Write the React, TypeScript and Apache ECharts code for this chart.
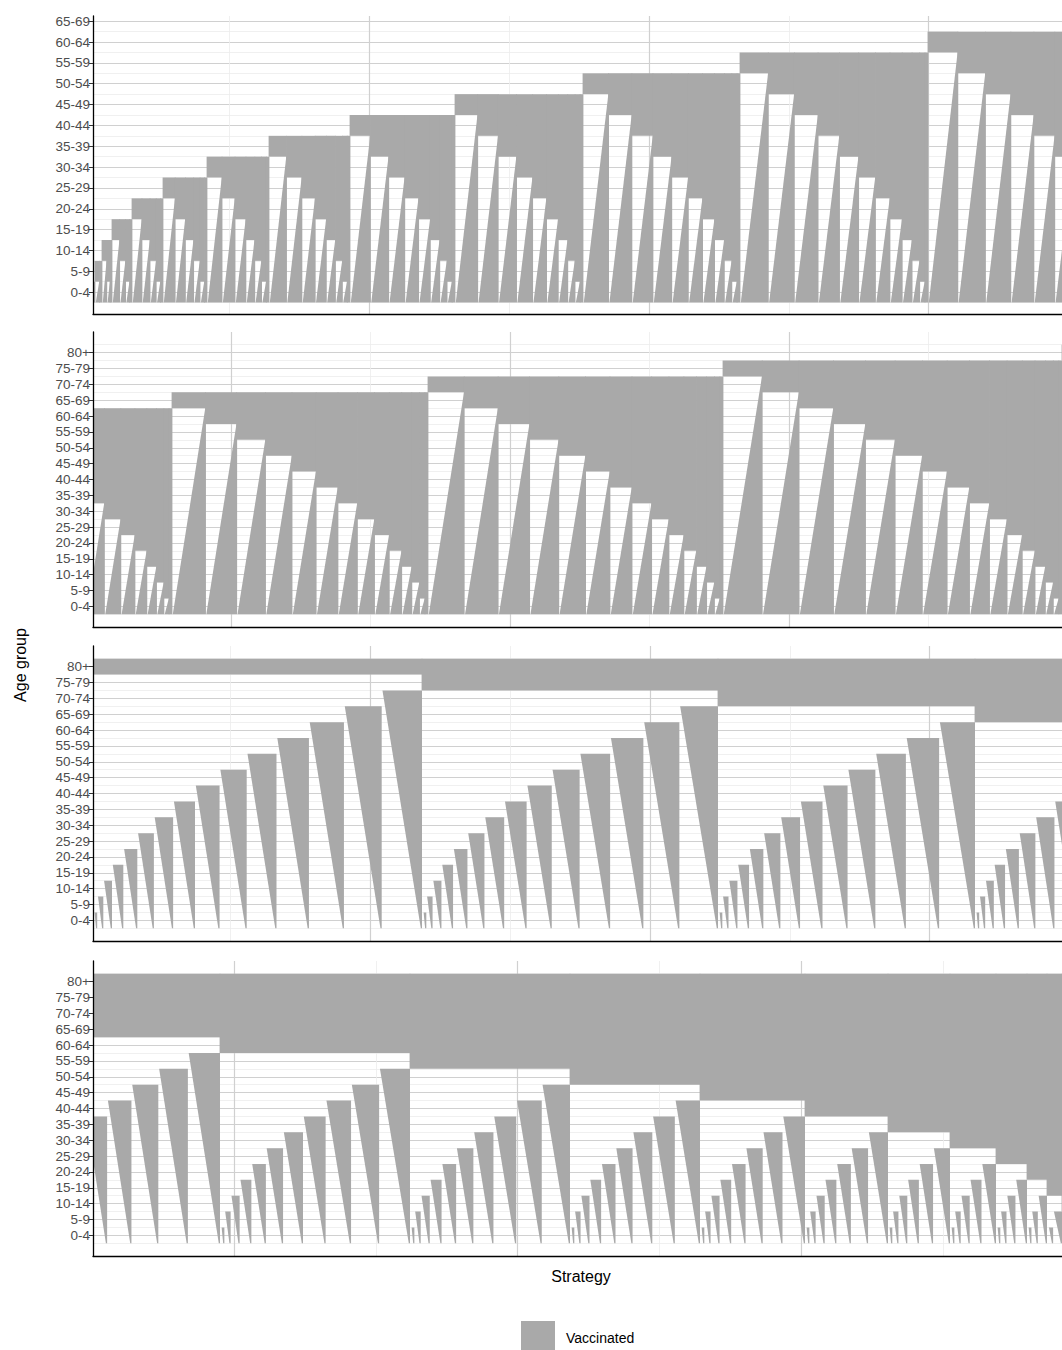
import { useEffect, useRef } from "react";
import * as echarts from "echarts";

// age groups, bottom to top
const ageGroups = ["0-4", "5-9", "10-14", "15-19", "20-24", "25-29", "30-34", "35-39", "40-44", "45-49", "50-54", "55-59", "60-64", "65-69", "70-74", "75-79", "80+"];
const panelTopIndex = [13, 16, 16, 16];
const panelYMin = [-1.05, -1.3, -1.3, -1.3];
const panelYMax = [13.25, 17.3, 17.3, 17.3];
const panelTop = [16, 332, 646, 961];
const panelHeight = [298, 295, 295, 295];

// strategies per panel (x units), panels continue one after another
const PANEL_W = 969;

// first family: [panel, start strategy, highest vaccinated group]
const familyA: [number, number, number][] = [
  [0, 0, 0], [0, 2, 1], [0, 9, 2], [0, 19, 3], [0, 39, 4], [0, 70, 5], [0, 114, 6],
  [0, 176, 7], [0, 257, 8], [0, 362, 9], [0, 490, 10], [0, 647, 11], [0, 835, 12],
  [1, 79, 13], [1, 335, 14], [1, 630, 15],
];
const familyAEnd: [number, number] = [1, 969];

// second family: [panel, start strategy, lowest group of the top band]
const familyB: [number, number, number][] = [
  [2, 0, 15.5], [2, 329, 14.5], [2, 625, 13.5], [2, 882, 12.5],
  [3, 127, 11.5], [3, 317, 10.5], [3, 477, 9.5], [3, 607, 8.5], [3, 712, 7.5],
  [3, 795, 6.5], [3, 857, 5.5], [3, 903, 4.5], [3, 934, 3.5], [3, 954, 2.5], [3, 969, 1.5],
];
const familyBEnd: [number, number] = [3, 985];

// vertical grid breaks per panel
const majorX = [[276, 556, 835], [138, 417, 696], [277, 557, 836], [141, 424, 708]];
const minorX = [[136, 416, 696], [277, 556, 835], [137, 417, 697], [283, 566, 850]];

const GRAY = "#a9a9a9";
const FONT = "Liberation Sans, Arial, sans-serif";

type Pt = [number, number];

function buildPolys(): Pt[][] {
  const polys: Pt[][] = [];
  const gx = (p: number, s: number) => p * PANEL_W + s;
  const e = 0.4;
  familyA.forEach(([p, s, k], i) => {
    const next = i + 1 < familyA.length ? familyA[i + 1] : familyAEnd;
    const x0 = gx(p, s);
    const x1 = gx(next[0], next[1]);
    const levels: number[] = [];
    for (let L = k - 0.5; L >= -0.5; L--) levels.push(L);
    const weights = levels.map((L) => L + 1.8);
    const total = weights.reduce((a, b) => a + b, 0);
    let cx = x0;
    levels.forEach((L, j) => {
      const w = ((x1 - x0) * weights[j]) / total;
      const a = cx;
      const b = cx + w;
      polys.push([[a - e, L], [b + e, L], [b + e, k + 0.5], [a - e, k + 0.5]]);
      if (L > -0.5) polys.push([[a + 0.8, -0.5], [b + e, -0.5], [b + e, L + 0.02], [b - 0.2, L + 0.02]]);
      cx = b;
    });
  });
  familyB.forEach(([p, s, band], i) => {
    const next = i + 1 < familyB.length ? familyB[i + 1] : familyBEnd;
    const x0 = gx(p, s);
    const x1 = gx(next[0], next[1]);
    polys.push([[x0 - e, band], [x1 + e, band], [x1 + e, 16.5], [x0 - e, 16.5]]);
    const levels: number[] = [];
    for (let L = -0.5; L <= band - 1; L++) levels.push(L);
    const weights = levels.map((L) => L + 0.8);
    const total = weights.reduce((a, b) => a + b, 0);
    let cx = x0;
    levels.forEach((L, j) => {
      const w = ((x1 - x0) * weights[j]) / total;
      const a = cx;
      const b = cx + w;
      if (L > -0.5) polys.push([[a + 0.8, L], [b, L], [b, -0.5], [b - 1.2, -0.5]]);
      cx = b;
    });
  });
  return polys;
}

export default function App() {
  const ref = useRef<HTMLDivElement>(null);
  useEffect(() => {
    document.body.style.margin = "0";
    if (!ref.current) return;
    const chart = echarts.init(ref.current, null, { renderer: "svg" });
    const polys = buildPolys();

    const grid = panelTop.map((t, i) => ({ left: 93, width: PANEL_W, top: t, height: panelHeight[i] }));
    const xAxis = panelTop.map((_, i) => ({
      type: "value",
      gridIndex: i,
      min: 0,
      max: PANEL_W,
      axisLine: { show: true, onZero: false, lineStyle: { color: "#000", width: 1.3 } },
      axisTick: { show: false },
      axisLabel: { show: false },
      splitLine: { show: false },
      z: 10,
    }));
    const yAxis = panelTop.map((_, i) => {
      const vals = ageGroups.slice(0, panelTopIndex[i] + 1).map((_, j) => j);
      return {
        type: "value",
        gridIndex: i,
        min: panelYMin[i],
        max: panelYMax[i],
        axisLine: { show: true, lineStyle: { color: "#000", width: 1.3 } },
        axisTick: { show: true, length: 4, customValues: vals, lineStyle: { color: "#333" } },
        axisLabel: {
          customValues: vals,
          formatter: (v: number) => ageGroups[Math.round(v)] ?? "",
          color: "#4d4d4d",
          fontSize: 13.5,
          fontFamily: FONT,
          margin: 3,
        },
        splitLine: { show: false },
        z: 10,
      };
    });

    const series: any[] = [];
    panelTop.forEach((_, i) => {
      const off = i * PANEL_W;
      const local = polys
        .map((pl) => pl.map(([x, y]) => [x - off, y] as Pt))
        .filter((pl) => pl.some(([x]) => x >= -2 && x <= PANEL_W + 2) || (pl[0][0] < 0 && pl[1][0] > PANEL_W));
      const lines: any[] = [];
      for (let v = -1; v <= panelTopIndex[i]; v++) {
        if (v >= 0) lines.push({ yAxis: v, lineStyle: { color: "#d0d0d0", width: 1.2 } });
        if (v + 0.5 < panelYMax[i]) lines.push({ yAxis: v + 0.5, lineStyle: { color: "#ececec", width: 0.8 } });
      }
      majorX[i].forEach((v) => lines.push({ xAxis: v, lineStyle: { color: "#d0d0d0", width: 1.2 } }));
      minorX[i].forEach((v) => lines.push({ xAxis: v, lineStyle: { color: "#ececec", width: 0.8 } }));
      series.push({
        type: "line",
        xAxisIndex: i,
        yAxisIndex: i,
        data: [[-100, -100]],
        showSymbol: false,
        z: 1,
        markLine: {
          silent: true,
          z: 1,
          symbol: ["none", "none"],
          label: { show: false },
          lineStyle: { type: "solid" },
          data: lines,
        },
      });
      series.push({
        type: "custom",
        xAxisIndex: i,
        yAxisIndex: i,
        clip: true,
        z: 3,
        data: local.map((pl) => [pl[0][0], pl[0][1]]),
        renderItem: (params: any, api: any) => {
          const pl = local[params.dataIndex];
          return {
            type: "polygon",
            shape: { points: pl.map((p) => api.coord(p)) },
            style: { fill: GRAY, lineWidth: 0 },
          };
        },
      });
    });

    chart.setOption({
      animation: false,
      backgroundColor: "#fff",
      grid,
      xAxis,
      yAxis,
      series,
      graphic: [
        {
          type: "text",
          x: 20,
          y: 665,
          rotation: Math.PI / 2,
          style: { text: "Age group", fontSize: 16, fontFamily: FONT, fill: "#000", align: "center", verticalAlign: "middle" },
        },
        {
          type: "text",
          x: 581,
          y: 1276,
          style: { text: "Strategy", fontSize: 16, fontFamily: FONT, fill: "#000", align: "center", verticalAlign: "middle" },
        },
        { type: "rect", shape: { x: 521, y: 1321, width: 34, height: 32 }, style: { fill: GRAY } },
        {
          type: "text",
          x: 566,
          y: 1338,
          style: { text: "Vaccinated", fontSize: 14, fontFamily: FONT, fill: "#000", verticalAlign: "middle" },
        },
      ],
    });
    return () => chart.dispose();
  }, []);
  return <div ref={ref} style={{ width: 1062, height: 1350 }} />;
}
